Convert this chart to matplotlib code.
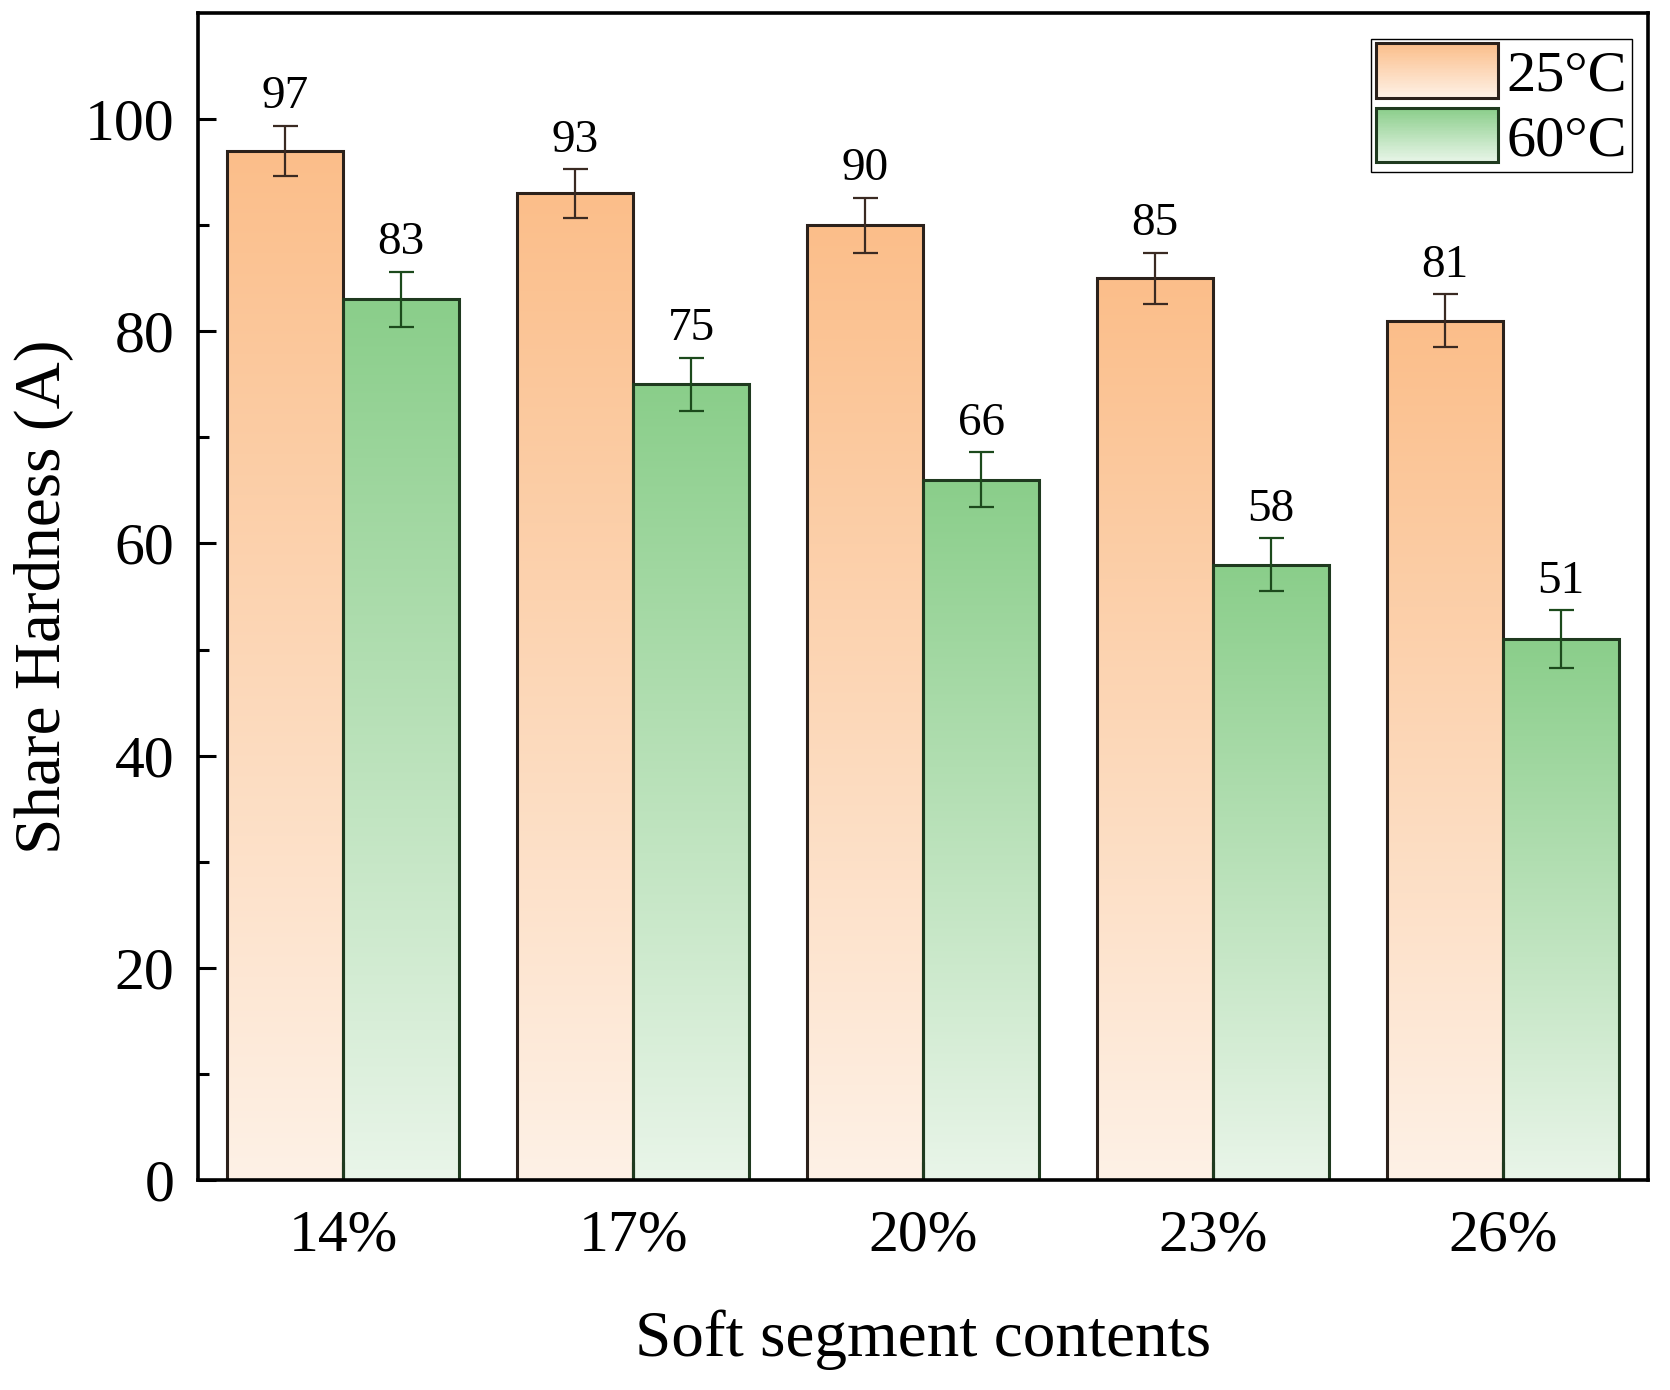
import numpy as np
import matplotlib.pyplot as plt
from matplotlib.patches import Rectangle
from matplotlib.legend_handler import HandlerBase

categories = ["14%", "17%", "20%", "23%", "26%"]
series_labels = ["25°C", "60°C"]
hard_25 = [97, 93, 90, 85, 81]
err_25 = [2.4, 2.3, 2.6, 2.4, 2.5]
hard_60 = [83, 75, 66, 58, 51]
err_60 = [2.6, 2.5, 2.6, 2.5, 2.7]

plt.rcParams["font.family"] = ["Liberation Serif", "DejaVu Serif"]

# gradient colours (top -> bottom) and outline / error bar colours
orange_top = np.array([251, 190, 138]) / 255
orange_bot = np.array([254, 241, 230]) / 255
green_top = np.array([138, 206, 138]) / 255
green_bot = np.array([233, 245, 233]) / 255
orange_edge = "#2b211b"
green_edge = "#1f3a1f"
orange_err = "#3a2a22"
green_err = "#1c4a1c"


def gradient(top, bot, n=256):
    t = np.linspace(1, 0, n)[:, None]
    return (bot + (top - bot) * t)[:, None, :]


class GradientHandler(HandlerBase):
    def __init__(self, top, bot, edge):
        super().__init__()
        self.top, self.bot, self.edge = top, bot, edge

    def create_artists(self, legend, orig_handle, xdescent, ydescent,
                       width, height, fontsize, trans):
        arts = []
        n = 40
        for i in range(n):
            t = (i + 0.5) / n
            c = self.bot + (self.top - self.bot) * t
            arts.append(Rectangle((-xdescent, -ydescent + height * i / n), width,
                                  height / n * 1.05, facecolor=c, edgecolor="none",
                                  transform=trans))
        arts.append(Rectangle((-xdescent, -ydescent), width, height, facecolor="none",
                              edgecolor=self.edge, lw=2.2, transform=trans))
        return arts


fig = plt.figure(figsize=(16.7, 13.9), dpi=100)
ax = fig.add_axes([0.1186, 0.1511, 0.8682, 0.8395])

x = np.arange(len(categories))
w = 0.4

groups = [
    (hard_25, err_25, -w / 2, orange_top, orange_bot, orange_edge, orange_err),
    (hard_60, err_60, w / 2, green_top, green_bot, green_edge, green_err),
]

for vals, errs, off, top, bot, edge, ecol in groups:
    grad = gradient(top, bot)
    for xi, v in zip(x, vals):
        ax.imshow(grad, extent=(xi + off - w / 2, xi + off + w / 2, 0, v),
                  aspect="auto", zorder=1, interpolation="bilinear")
    ax.bar(x + off, vals, w, facecolor="none", edgecolor=edge, linewidth=2.2, zorder=2)
    ax.errorbar(x + off, vals, yerr=errs, fmt="none", ecolor=ecol, elinewidth=1.6,
                capsize=9, capthick=1.6, zorder=3)
    for xi, v, e in zip(x, vals, errs):
        ax.text(xi + off, v + e + 0.7, str(v), ha="center", va="bottom", fontsize=34)

ax.set_xlim(-0.5, 4.5)
ax.set_ylim(0, 110)
ax.set_xticks(x)
ax.set_xticklabels(categories)
ax.set_yticks(np.arange(0, 101, 20))
ax.set_yticks(np.arange(10, 101, 20), minor=True)

ax.tick_params(axis="both", which="major", direction="in", length=13, width=2.2,
               labelsize=43, top=False, right=False)
ax.tick_params(axis="y", which="major", pad=17)
ax.tick_params(axis="x", which="major", pad=21)
ax.tick_params(axis="y", which="minor", direction="in", length=8, width=2.2, right=False)
ax.tick_params(axis="x", which="minor", bottom=False)

for s in ax.spines.values():
    s.set_linewidth(2.6)

ax.set_xlabel("Soft segment contents", fontsize=47, labelpad=33)
ax.set_ylabel("Share Hardness (A)", fontsize=47, labelpad=8)

h25 = Rectangle((0, 0), 1, 1)
h60 = Rectangle((0, 0), 1, 1)
leg = ax.legend([h25, h60], series_labels,
                handler_map={h25: GradientHandler(orange_top, orange_bot, orange_edge),
                             h60: GradientHandler(green_top, green_bot, green_edge)},
                loc="upper right", bbox_to_anchor=(0.989, 0.978), borderaxespad=0,
                fontsize=42, handlelength=2.1, handleheight=1.05, handletextpad=0.15,
                labelspacing=0.1, borderpad=0.08, fancybox=False, framealpha=1)
leg.get_frame().set_edgecolor("black")
leg.get_frame().set_linewidth(1.0)

fig.savefig("out.png", dpi=100)
